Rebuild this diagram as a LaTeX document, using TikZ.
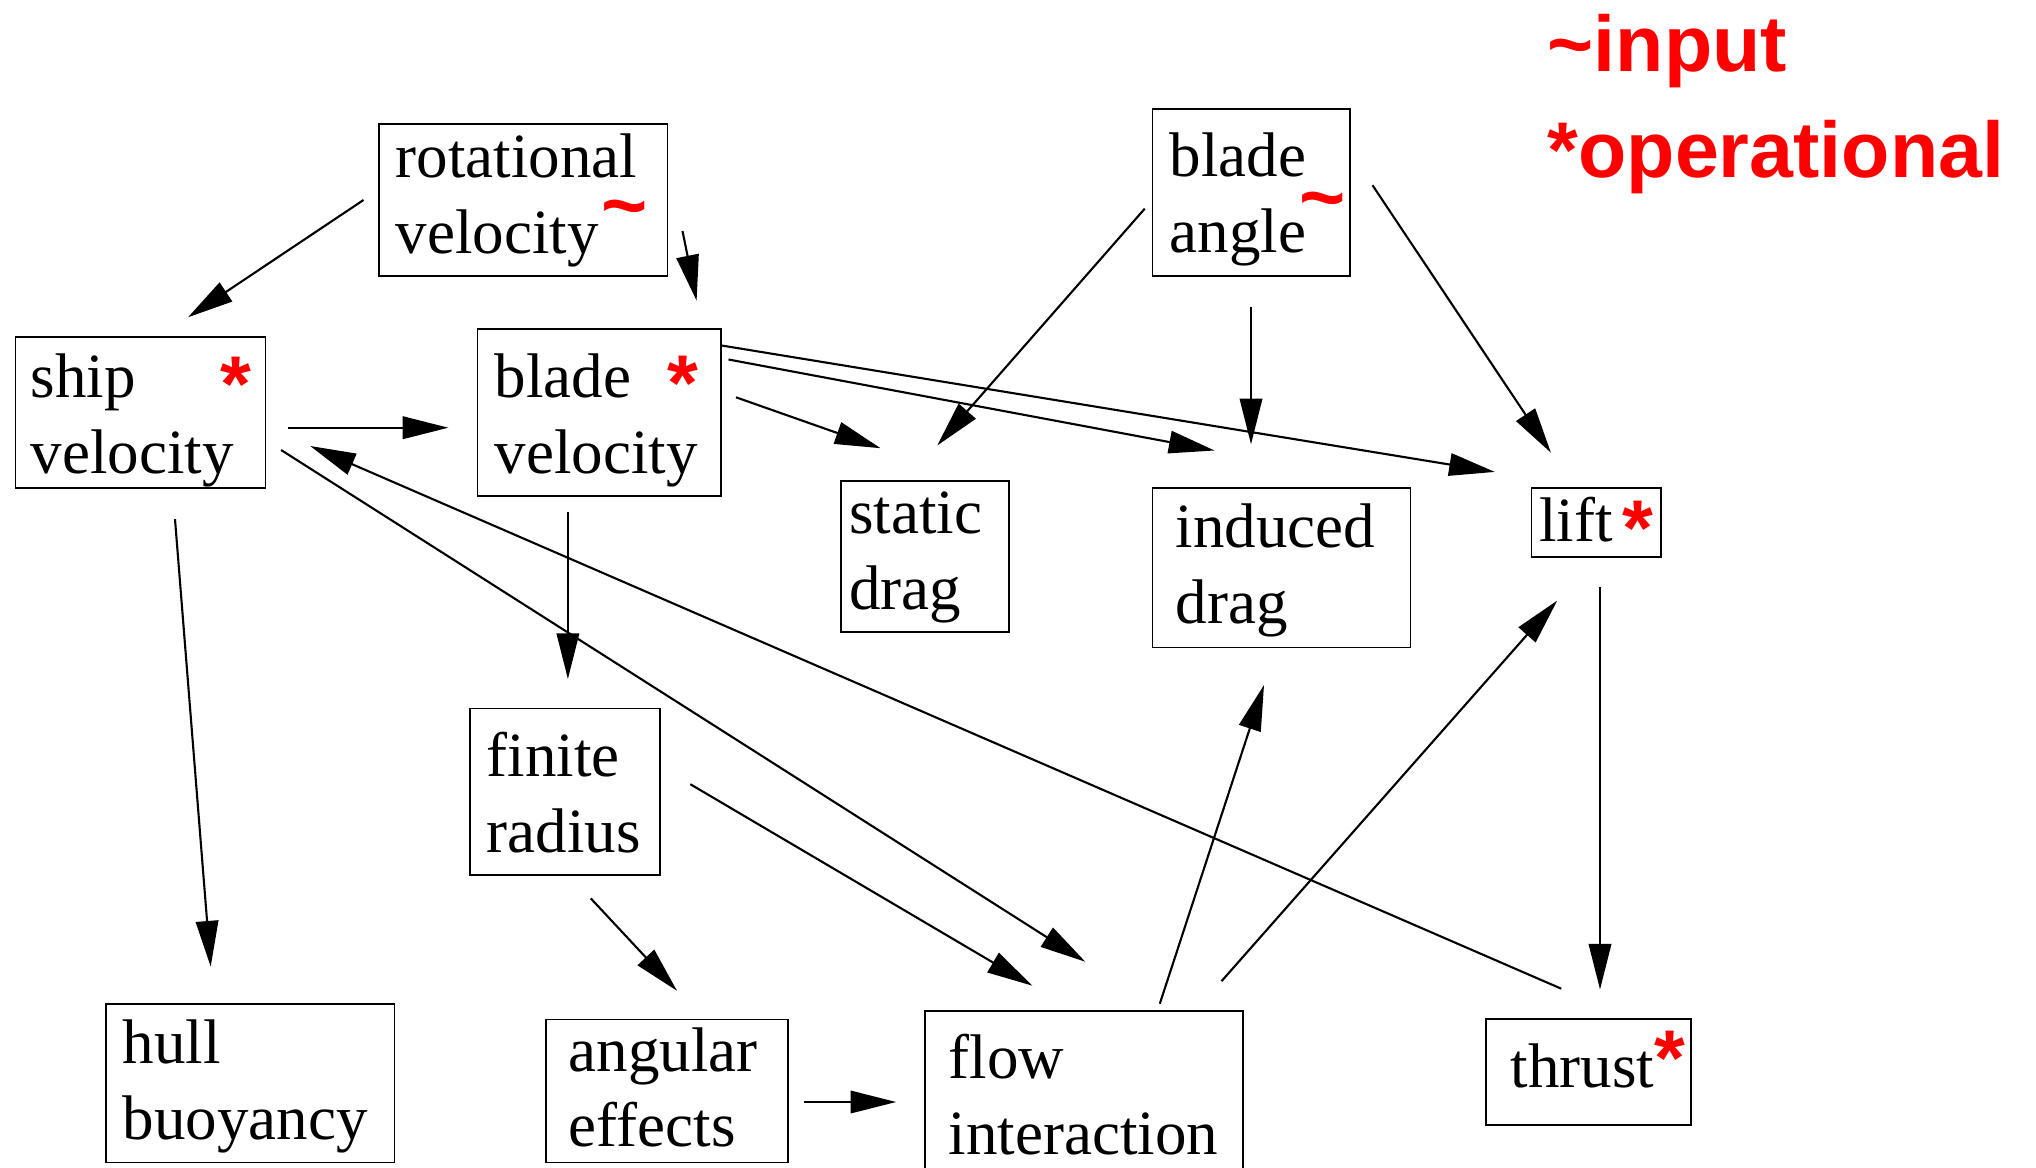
\documentclass[tikz,border=0pt]{standalone}
\usepackage{fontspec}
\setmainfont{Liberation Serif}
\newfontfamily\legfont{Liberation Sans}
\usetikzlibrary{arrows.meta,fit}
\definecolor{mred}{RGB}{255,0,0}
\newcommand\mylines[2]{\begin{tabular}[t]{@{}l@{}}#1\\{}#2\end{tabular}}
\newcommand\redtilde[2]{\kern#1\smash{\raisebox{#2}{\legfont\bfseries\fontsize{22.5pt}{27pt}\selectfont\textcolor{mred}{\textasciitilde}}}}
\begin{document}
\begin{tikzpicture}[x=0.1mm,y=-0.1mm,
  box/.style={draw, line width=0.5pt, inner sep=0pt},
  lbl/.style={inner sep=0pt, anchor=base west, font=\fontsize{17.93pt}{21.62pt}\selectfont},
  redmark/.style={inner sep=0pt, anchor=base, text=mred, font=\legfont\bfseries\fontsize{22.5pt}{27pt}\selectfont},
  legend/.style={inner sep=0pt, anchor=base west, text=mred, font=\legfont\bfseries\fontsize{22.48pt}{30.27pt}\selectfont},
  conn/.style={line width=0.6pt, -{Triangle[length=13pt,width=6.4pt]}}]
\useasboundingbox (0,0) rectangle (2036,1168);
\clip (0,0) rectangle (2036,1168);

% ---------- boxes ----------
\node[box, fit={(379,124.3) (667.5,276)}] (rot) {};
\node[box, fit={(1152.4,109.1) (1349.7,276.3)}] (angle) {};
\node[box, fit={(15.5,336.7) (265.6,488.3)}] (ship) {};
\node[box, fit={(477.5,329.3) (720.8,496)}] (bvel) {};
\node[box, fit={(841.3,480.7) (1008.7,632.2)}] (sdrag) {};
\node[box, fit={(1152.4,488.3) (1410.6,647.5)}] (idrag) {};
\node[box, fit={(1531.5,488.3) (1661.1,556.8)}] (lift) {};
\node[box, fit={(469.9,708.4) (659.7,875)}] (finite) {};
\node[box, fit={(106.1,1004) (394.4,1162.6)}] (hull) {};
\node[box, fit={(545.9,1019.4) (788.3,1162.6)}] (angular) {};
\node[box, fit={(925,1011.2) (1243.1,1190)}] (flow) {};
\node[box, fit={(1485.9,1018.7) (1691,1124.8)}] (thrust) {};

% ---------- texts ----------
\node[lbl] (rotT) at (395,177.3) {\mylines{rotational}{velocity\redtilde{0.85pt}{5.9pt}}};
\node[lbl] (angleT) at (1169,176.4) {\mylines{blade}{angle\redtilde{-1.9pt}{7.85pt}}};
\node[lbl] (shipT) at (30,397.7) {\mylines{ship}{velocity}};
\node[lbl] (bvelT) at (494,397.7) {\mylines{blade}{velocity}};
\node[lbl] (sdragT) at (848.5,533.5) {\mylines{static}{drag}};
\node[lbl] (idragT) at (1175,547.7) {\mylines{induced}{drag}};
\node[lbl] (liftT) at (1538.5,541.5) {lift};
\node[lbl] (finiteT) at (486,776.1) {\mylines{finite}{radius}};
\node[lbl] (hullT) at (122,1063.2) {\mylines{hull}{buoyancy}};
\node[lbl] (angularT) at (568,1071) {\mylines{angular}{effects}};
\node[lbl] (flowT) at (948,1078.7) {\mylines{flow}{interaction}};
\node[lbl] (thrustT) at (1510,1087) {thrust};

% ---------- red marks ----------
\node[redmark] (shipM) at (236,411.2) {*};
\node[redmark] (bvelM) at (683,410.7) {*};
\node[redmark] (liftM) at (1638,555.7) {*};
\node[redmark] (thrustM) at (1669.5,1085.7) {*};

% ---------- legend ----------
\node[legend] (leg) at (1547,71.6) {\mylines{\textasciitilde input}{*operational}};

% ---------- connector end points ----------
\coordinate (rotA) at (363.5,200);   \coordinate (shipIn) at (188,317.3);
\coordinate (rotB) at (682.5,231);   \coordinate (bvelIn) at (696.6,300.7);
\coordinate (shipA) at (288.4,427.7); \coordinate (bvelL) at (448.4,427.7);
\coordinate (shipB) at (175,519.2);  \coordinate (hullIn) at (210.7,966.6);
\coordinate (shipC) at (281.1,450);  \coordinate (flowA) at (1085.3,961.7);
\coordinate (thrustA) at (1561.3,988.7); \coordinate (shipR) at (310.2,446);
\coordinate (bvelA) at (736,397.3);  \coordinate (sdragA) at (880.5,448.2);
\coordinate (bvelB) at (728.5,359.5); \coordinate (idragA) at (1214.5,450.5);
\coordinate (bvelC) at (721,345.4);  \coordinate (liftA) at (1494.8,471.9);
\coordinate (bvelD) at (567.9,511.5); \coordinate (finiteIn) at (567.9,679);
\coordinate (angleA) at (1144.8,208.6); \coordinate (sdragB) at (937.2,445.5);
\coordinate (angleB) at (1251,306.6); \coordinate (idragB) at (1251,444.3);
\coordinate (angleC) at (1372.5,185.2); \coordinate (liftB) at (1550.9,452.7);
\coordinate (finiteA) at (590.8,898.4); \coordinate (angularIn) at (677,990.8);
\coordinate (finiteB) at (690.3,784.2); \coordinate (flowB) at (1032.4,985.7);
\coordinate (angularA) at (804,1102); \coordinate (flowC) at (896.2,1102);
\coordinate (flowD) at (1159.8,1003.7); \coordinate (idragC) at (1264,685);
\coordinate (flowE) at (1221.5,981.2); \coordinate (liftC) at (1557.2,600.6);
\coordinate (liftD) at (1600,587.4); \coordinate (thrustIn) at (1600,989.5);

% ---------- connectors ----------
\draw[conn] (rotA) -- (shipIn);
\draw[conn] (rotB) -- (bvelIn);
\draw[conn] (shipA) -- (bvelL);
\draw[conn] (shipB) -- (hullIn);
\draw[conn] (shipC) -- (flowA);
\draw[conn] (thrustA) -- (shipR);
\draw[conn] (bvelA) -- (sdragA);
\draw[conn] (bvelB) -- (idragA);
\draw[conn] (bvelC) -- (liftA);
\draw[conn] (bvelD) -- (finiteIn);
\draw[conn] (angleA) -- (sdragB);
\draw[conn] (angleB) -- (idragB);
\draw[conn] (angleC) -- (liftB);
\draw[conn] (finiteA) -- (angularIn);
\draw[conn] (finiteB) -- (flowB);
\draw[conn] (angularA) -- (flowC);
\draw[conn] (flowD) -- (idragC);
\draw[conn] (flowE) -- (liftC);
\draw[conn] (liftD) -- (thrustIn);
\end{tikzpicture}
\end{document}
